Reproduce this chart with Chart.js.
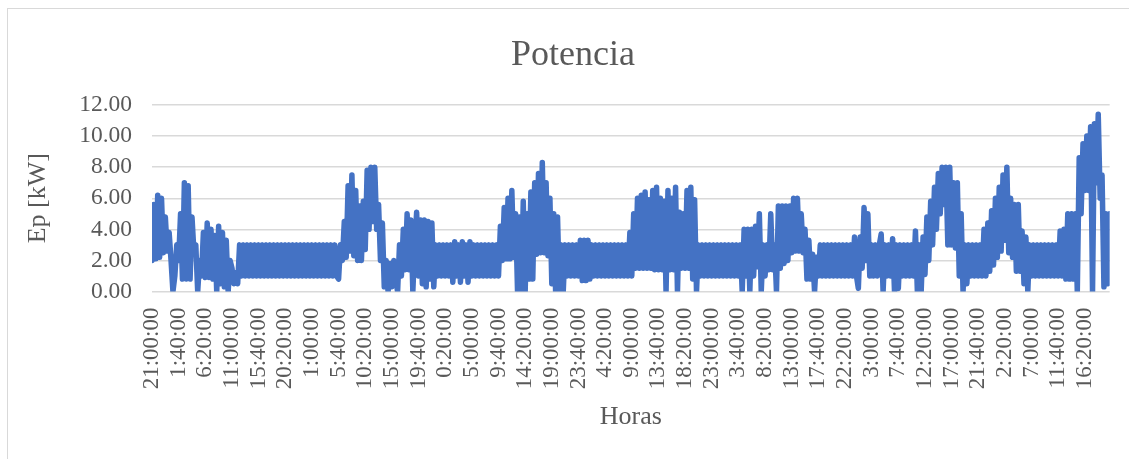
<!DOCTYPE html>
<html lang="es">
<head>
<meta charset="utf-8">
<title>Potencia</title>
<script src="https://cdn.jsdelivr.net/npm/chart.js@4.4.1/dist/chart.umd.min.js"></script>
<style>
  html, body { margin: 0; padding: 0; background: #ffffff; overflow: hidden; }
  #marco { position: absolute; left: 7px; top: 8px; width: 1140px; height: 470px; border: 1px solid #d9d9d9; }
  #graficoPotencia { position: absolute; left: 0; top: 0; }
</style>
</head>
<body>
<div id="marco"></div>
<canvas id="graficoPotencia" width="1129" height="459"></canvas>
<script>
// Etiquetas del eje X (una cada 14 registros de 20 min = 4 h 40 min)
const etiquetasHoras = [
    '21:00:00', '1:40:00', '6:20:00', '11:00:00', '15:40:00', '20:20:00',
    '1:00:00', '5:40:00', '10:20:00', '15:00:00', '19:40:00', '0:20:00',
    '5:00:00', '9:40:00', '14:20:00', '19:00:00', '23:40:00', '4:20:00',
    '9:00:00', '13:40:00', '18:20:00', '23:00:00', '3:40:00', '8:20:00',
    '13:00:00', '17:40:00', '22:20:00', '3:00:00', '7:40:00', '12:20:00',
    '17:00:00', '21:40:00', '2:20:00', '7:00:00', '11:40:00', '16:20:00'
];
const puntosPorEtiqueta = 14;

// Marcas del eje Y
const marcasY = [0, 2, 4, 6, 8, 10, 12];

// Potencia Ep [kW], un valor cada 20 min (cada fila = un tramo entre etiquetas)
const potencia = [
    2.0, 5.6, 2.1, 6.2, 2.2, 6.0, 2.5, 4.8, 2.6, 3.8, 2.0, 0.0, 1.0, 3.0,
    2.0, 5.0, 0.8, 7.0, 0.8, 6.8, 0.8, 4.8, 2.6, 3.0, 0.0, 2.0, 1.0, 3.8,
    0.9, 4.4, 0.9, 4.0, 0.8, 3.6, 0.0, 4.2, 0.5, 3.8, 0.3, 3.3, 0.0, 2.0,
    1.5, 0.5, 1.2, 0.5, 3, 1, 3, 1, 3, 1, 3, 1, 3, 1,
    3, 1, 3, 1, 3, 1, 3, 1, 3, 1, 3, 1, 3, 1,
    3, 1, 3, 1, 3, 1, 3, 1, 3, 1, 3, 1, 3, 1,
    3, 1, 3, 1, 3, 1, 3, 1, 3, 1, 3, 1, 3, 1,
    0.8, 3.0, 2.0, 4.5, 2.2, 6.8, 2.6, 7.5, 2.3, 6.5, 2.0, 5.5, 2.0, 5.8,
    2.7, 7.8, 4.0, 8.0, 4.5, 8.0, 4.0, 5.6, 2.0, 4.4, 0.3, 2.0, 0.0, 1.8,
    0.3, 2.0, 0.8, 0.0, 3.0, 1.0, 4.0, 1.4, 5.0, 1.4, 4.6, 0.0, 3.0, 5.1,
    1.0, 4.6, 0.5, 4.6, 0.3, 4.5, 0.8, 4.4, 0.3, 3.0, 1.0, 3.0, 1.0, 3.0,
    1, 3, 1, 3, 0.6, 3.2, 1, 3, 0.6, 3.2, 1, 3, 0.6, 3.2,
    1, 3, 1, 3, 1, 3, 1, 3, 1, 3, 1, 3, 1, 3,
    1.0, 4.2, 2.0, 5.4, 2.1, 6.0, 2.1, 6.5, 2.2, 5.0, 0.0, 4.8, 0.0, 5.8,
    0.0, 5.0, 0.8, 6.4, 0.8, 7.0, 2.4, 7.6, 2.5, 8.3, 2.5, 7.0, 2.3, 6.0,
    0.5, 5.0, 0.0, 4.8, 0.0, 3.0, 0.0, 3.0, 1, 3, 1, 3, 1, 3,
    1, 3.3, 0.7, 3.3, 0.7, 3.3, 0.8, 3, 1, 3, 1, 3, 1, 3,
    1, 3, 1, 3, 1, 3, 1, 3, 1, 3, 1, 3, 1, 3.8,
    1.0, 5.0, 1.5, 6.0, 1.5, 6.2, 1.5, 6.4, 1.5, 5.9, 1.5, 6.5, 1.4, 6.7,
    1.4, 6.0, 1.4, 5.8, 0.0, 6.5, 1.4, 6.0, 1.4, 6.7, 0.0, 5.1, 1.5, 5.0,
    1.5, 6.5, 1.5, 6.7, 0.8, 5.9, 0.0, 3, 1, 3, 1, 3, 1, 3,
    1, 3, 1, 3, 1, 3, 1, 3, 1, 3, 1, 3, 1, 3,
    1.0, 3.0, 0.0, 4.0, 1.0, 4.0, 0.0, 4.0, 1.0, 4.2, 1.6, 5.0, 0.0, 3.0,
    1.0, 3.0, 1.4, 5.0, 1.4, 3.0, 0.0, 5.5, 1.5, 5.5, 1.8, 5.5, 2.0, 5.5,
    2.5, 6.0, 2.6, 6.0, 2.6, 5.0, 2.5, 4.0, 0.8, 3.3, 0.8, 2.4, 0.0, 2.2,
    1, 3, 1, 3, 1, 3, 1, 3, 1, 3, 1, 3, 1, 3,
    1.0, 3.0, 1.0, 3.0, 1.0, 3.5, 1.0, 0.2, 3.5, 1.5, 5.4, 2.0, 5.0, 1.0,
    3.0, 1.0, 3.0, 1.0, 3.0, 3.7, 0.0, 3.0, 1.0, 3.0, 1.0, 3.4, 0.0, 3.0,
    0.2, 3.0, 1.0, 3.0, 1.0, 3.0, 1.0, 3.0, 1.0, 3.9, 0.0, 3.0, 0.0, 3.5,
    1.1, 4.8, 2.0, 5.8, 3.0, 6.7, 4.0, 7.6, 5.0, 8.0, 5.6, 8.0, 3.0, 8.0,
    3.0, 7.0, 2.8, 7.0, 1.0, 5.0, 0.0, 3.0, 0.5, 3.0, 1.0, 3.0, 1.0, 3.0,
    1.0, 3.0, 1.0, 4.0, 1.0, 4.4, 1.3, 5.2, 1.7, 6.0, 2.2, 6.7, 2.6, 7.5,
    3.3, 8.0, 2.5, 6.0, 2.2, 5.6, 1.3, 5.6, 1.3, 3.9, 0.5, 3.5, 0.0, 3.0,
    1, 3, 1, 3, 1, 3, 1, 3, 1, 3, 1, 3, 1, 3,
    1.0, 3.9, 1.0, 4.0, 0.8, 5.0, 0.8, 5.0, 0.8, 5.0, 0.0, 8.6, 5.0, 9.5,
    6.5, 10.0, 6.5, 10.6, 0.0, 10.8, 7.0, 11.4, 6.0, 7.5, 0.3, 5.0, 0.5, 5.0
];

const fuenteSerif = "'Liberation Serif', 'Times New Roman', serif";
const colorTexto = '#595959';

// Título centrado sobre todo el marco (como en Excel), no sólo sobre el área del gráfico
const tituloCentrado = {
    id: 'tituloCentrado',
    afterDraw(chart) {
        const c = chart.ctx;
        c.save();
        c.fillStyle = colorTexto;
        c.font = '36px ' + fuenteSerif;
        c.textAlign = 'center';
        c.textBaseline = 'alphabetic';
        c.fillText('Potencia', 573, 65);
        c.restore();
    }
};

const ctx = document.getElementById('graficoPotencia').getContext('2d');

new Chart(ctx, {
    type: 'line',
    data: {
        datasets: [{
            label: 'Potencia',
            data: potencia.map((valor, i) => ({ x: i, y: valor })),
            borderColor: '#4472C4',
            borderWidth: 5.5,
            borderJoinStyle: 'round',
            borderCapStyle: 'round',
            pointRadius: 0,
            tension: 0,
            fill: false
        }]
    },
    plugins: [tituloCentrado],
    options: {
        responsive: false,
        animation: false,
        layout: { padding: { top: 105, left: 0, right: 19, bottom: 0 } },
        plugins: {
            legend: { display: false },
            tooltip: { enabled: false },
            title: { display: false }
        },
        scales: {
            x: {
                type: 'linear',
                min: 0,
                max: potencia.length - 1,
                afterBuildTicks: escala => {
                    escala.ticks = etiquetasHoras.map((_, i) => ({ value: i * puntosPorEtiqueta }));
                },
                afterFit: escala => { escala.height = 459 - 291.5; },
                grid: { display: false, drawTicks: false },
                border: { display: false },
                ticks: {
                    autoSkip: false,
                    minRotation: 90,
                    maxRotation: 90,
                    padding: 16,
                    color: colorTexto,
                    font: { family: fuenteSerif, size: 23 },
                    callback: valor => etiquetasHoras[valor / puntosPorEtiqueta]
                },
                title: {
                    display: true,
                    text: 'Horas',
                    color: colorTexto,
                    font: { family: fuenteSerif, size: 26, lineHeight: 1 },
                    padding: { top: 0, bottom: 29 }
                }
            },
            y: {
                min: 0,
                max: 12,
                afterBuildTicks: escala => {
                    escala.ticks = marcasY.map(v => ({ value: v }));
                },
                afterFit: escala => { escala.width = 152; },
                grid: { color: '#d9d9d9', lineWidth: 1.5, drawTicks: false },
                border: { display: false },
                ticks: {
                    autoSkip: false,
                    padding: 20,
                    color: colorTexto,
                    font: { family: fuenteSerif, size: 23.5, lineHeight: 1 },
                    callback: valor => valor.toFixed(2)
                },
                title: {
                    display: true,
                    text: 'Ep [kW]',
                    color: colorTexto,
                    font: { family: fuenteSerif, size: 26, lineHeight: 1 },
                    padding: { top: 25, bottom: 0 }
                }
            }
        }
    }
});
</script>
</body>
</html>
